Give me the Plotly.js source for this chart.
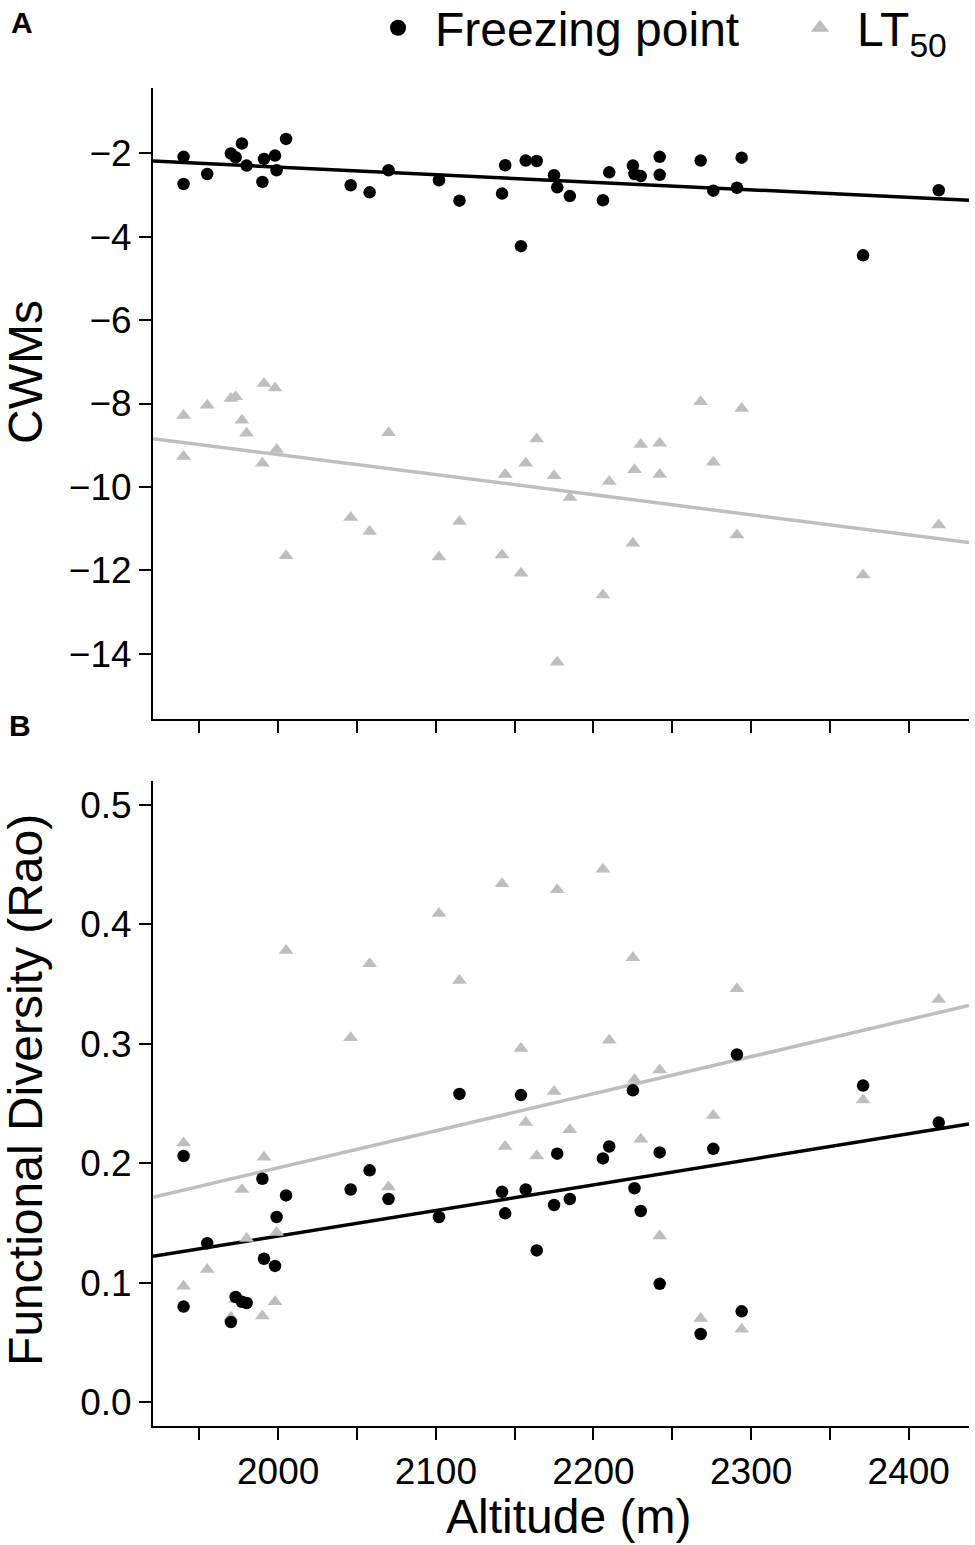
<!DOCTYPE html>
<html>
<head>
<meta charset="utf-8">
<script src="https://cdn.plot.ly/plotly-3.0.1.min.js"></script>
<style>
  html, body { margin: 0; padding: 0; background: #fff; }
  #chart { width: 975px; height: 1545px; }
</style>
</head>
<body>
<div id="chart"></div>
<script>
  // site altitudes (m), one entry per plot
  const altitude = [1940, 1940, 1955, 1970, 1973, 1977, 1980, 1990, 1991, 1998, 1999, 2005, 2046, 2058, 2070, 2102, 2115, 2142, 2144, 2154, 2157, 2164, 2175, 2177, 2185, 2206, 2210, 2225, 2226, 2230, 2242, 2242, 2268, 2276, 2291, 2294, 2371, 2419];

  // panel A: community weighted means
  const cwmFreezing = [-2.09, -2.74, -2.50, -2.01, -2.10, -1.77, -2.30, -2.69, -2.14, -2.06, -2.41, -1.66, -2.77, -2.94, -2.41, -2.65, -3.14, -2.97, -2.29, -4.23, -2.18, -2.19, -2.53, -2.82, -3.03, -3.13, -2.46, -2.30, -2.50, -2.55, -2.09, -2.52, -2.18, -2.90, -2.83, -2.11, -4.45, -2.89];
  const cwmLT50 = [-8.29, -9.27, -8.04, -7.88, -7.84, -8.40, -8.71, -9.43, -7.52, -7.63, -9.10, -11.65, -10.73, -11.07, -8.70, -11.68, -10.83, -11.63, -9.70, -12.07, -9.43, -8.85, -9.73, -14.20, -10.25, -12.59, -9.87, -11.35, -9.59, -8.98, -8.95, -9.70, -7.96, -9.41, -11.15, -8.12, -12.11, -10.91];

  // panel B: functional diversity (Rao)
  const raoFreezing = [0.206, 0.080, 0.133, 0.067, 0.088, 0.084, 0.083, 0.187, 0.120, 0.114, 0.155, 0.173, 0.178, 0.194, 0.170, 0.155, 0.258, 0.176, 0.158, 0.257, 0.178, 0.127, 0.165, 0.208, 0.170, 0.204, 0.214, 0.261, 0.179, 0.160, 0.209, 0.099, 0.057, 0.212, 0.291, 0.076, 0.265, 0.234];
  const raoLT50 = [0.217, 0.097, 0.111, 0.071, 0.086, 0.178, 0.137, 0.072, 0.205, 0.084, 0.142, 0.378, 0.305, 0.367, 0.180, 0.409, 0.353, 0.434, 0.214, 0.296, 0.234, 0.206, 0.260, 0.429, 0.228, 0.446, 0.303, 0.372, 0.270, 0.220, 0.278, 0.139, 0.070, 0.240, 0.346, 0.061, 0.253, 0.337];

  // fitted lines: value at 2000 m and slope per m
  // order: cwmFreezing, cwmLT50, raoFreezing, raoLT50
  const fitAt2000 = [-2.335, -9.224, 0.139, 0.1961];
  const fitSlope = [-0.001816, -0.004808, 0.0002143, 0.0003103];

  const xRange = [1920.6, 2438.2];
  const xTicks = [2000, 2100, 2200, 2300, 2400];
  const cwmTicks = [-14, -12, -10, -8, -6, -4, -2];
  const raoTicks = [0, 0.1, 0.2, 0.3, 0.4, 0.5];

  const BLACK = "#000000";
  const GREY = "#bebebe";
  const FONT = "Liberation Sans, Arial, Helvetica, sans-serif";

  function fitLine(i, xa, ya, color) {
    return {
      x: xRange,
      y: xRange.map((x) => fitAt2000[i] + fitSlope[i] * (x - 2000)),
      xaxis: xa, yaxis: ya,
      type: "scatter", mode: "lines",
      line: { color: color, width: 3.5 },
      showlegend: false, hoverinfo: "skip",
    };
  }

  function points(y, xa, ya, symbol, color) {
    return {
      x: altitude, y: y,
      xaxis: xa, yaxis: ya,
      type: "scatter", mode: "markers",
      marker: { symbol: symbol, color: color, size: symbol === "circle" ? 12.5 : 13 },
      showlegend: false,
    };
  }

  const data = [
    fitLine(0, "x", "y", BLACK),
    fitLine(1, "x", "y", GREY),
    points(cwmLT50, "x", "y", "triangle-up", GREY),
    points(cwmFreezing, "x", "y", "circle", BLACK),
    fitLine(2, "x2", "y2", BLACK),
    fitLine(3, "x2", "y2", GREY),
    points(raoLT50, "x2", "y2", "triangle-up", GREY),
    points(raoFreezing, "x2", "y2", "circle", BLACK),
    // legend entries
    { x: [null], y: [null], type: "scatter", mode: "markers", name: "Freezing point",
      marker: { symbol: "circle", color: BLACK, size: 16 }, legend: "legend" },
    { x: [null], y: [null], type: "scatter", mode: "markers", name: "LT<sub>50</sub>",
      marker: { symbol: "triangle-up", color: GREY, size: 16 }, legend: "legend2" },
  ];

  const axisCommon = {
    showline: true, linecolor: BLACK, linewidth: 2,
    ticks: "outside", ticklen: 12, tickwidth: 2, tickcolor: BLACK,
    showgrid: false, zeroline: false, fixedrange: true,
    tickfont: { family: FONT, size: 37, color: BLACK },
  };

  const xMinor = { tick0: 1950, dtick: 100, ticks: "outside", ticklen: 12, tickwidth: 2, tickcolor: BLACK, showgrid: false };

  const legendCommon = {
    orientation: "h", yanchor: "middle", y: 1.0448, xanchor: "left",
    font: { family: FONT, size: 48, color: BLACK },
    bgcolor: "rgba(0,0,0,0)", itemwidth: 64, borderwidth: 0,
  };

  function paperAnn(text, x, y, size, extra) {
    return Object.assign({
      text: text, xref: "paper", yref: "paper", x: x, y: y,
      xanchor: "center", yanchor: "middle", showarrow: false,
      font: { family: FONT, size: size, color: BLACK },
    }, extra || {});
  }

  const layout = {
    width: 975, height: 1545,
    margin: { l: 153, r: 6, t: 88, b: 119, autoexpand: false },
    paper_bgcolor: "#ffffff", plot_bgcolor: "#ffffff",
    font: { family: FONT, color: BLACK },
    xaxis: Object.assign({}, axisCommon, {
      domain: [0, 1], anchor: "y", range: xRange,
      tickvals: xTicks, showticklabels: false, minor: xMinor,
    }),
    xaxis2: Object.assign({}, axisCommon, {
      domain: [0, 1], anchor: "y2", range: xRange,
      tickvals: xTicks, minor: xMinor,
    }),
    yaxis: Object.assign({}, axisCommon, {
      domain: [0.5284, 1], anchor: "x", range: [-15.56, -0.44],
      tickvals: cwmTicks,
    }),
    yaxis2: Object.assign({}, axisCommon, {
      domain: [0, 0.4821], anchor: "x2", range: [-0.02, 0.52],
      tickvals: raoTicks, tickformat: ".1f",
    }),
    legend: Object.assign({}, legendCommon, { x: 0.2549 }),
    legend2: Object.assign({}, legendCommon, { x: 0.772 }),
    annotations: [
      paperAnn("<b>A</b>", -0.1605, 1.0493, 30),
      paperAnn("<b>B</b>", -0.163, 0.5239, 30),
      paperAnn("CWMs", -0.157, 0.7877, 48, { textangle: -90 }),
      paperAnn("Functional Diversity (Rao)", -0.157, 0.2511, 48, { textangle: -90 }),
      paperAnn("Altitude (m)", 0.5086, -0.0673, 48),
    ],
  };

  Plotly.newPlot("chart", data, layout, { displayModeBar: false, responsive: false, staticPlot: true });
</script>
</body>
</html>
